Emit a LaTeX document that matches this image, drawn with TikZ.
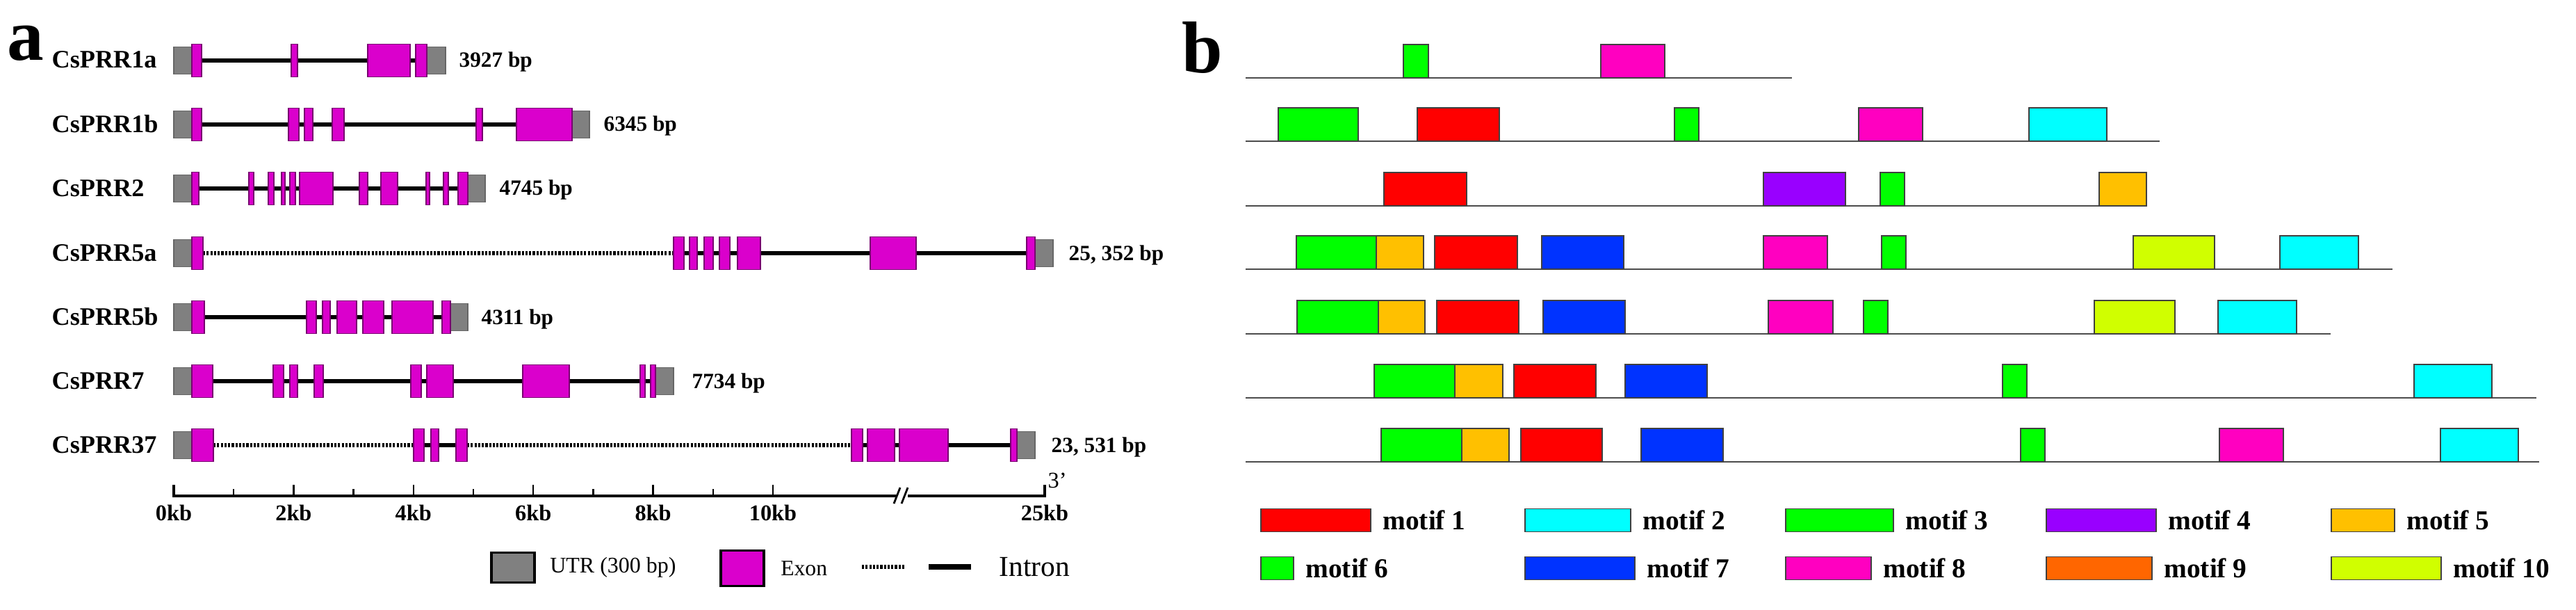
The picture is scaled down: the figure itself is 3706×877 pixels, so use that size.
\documentclass[tikz,border=0pt]{standalone}
\usepackage{fontspec}
\setmainfont{Liberation Serif}
\usetikzlibrary{positioning}
\definecolor{exon}{RGB}{218,0,204}
\definecolor{utr}{RGB}{128,128,128}
\definecolor{mred}{RGB}{255,0,0}
\definecolor{mcyan}{RGB}{0,255,255}
\definecolor{mgreen}{RGB}{0,255,0}
\definecolor{mpurple}{RGB}{153,0,255}
\definecolor{morange}{RGB}{255,192,0}
\definecolor{mblue}{RGB}{0,51,255}
\definecolor{mpink}{RGB}{255,0,192}
\definecolor{mbrown}{RGB}{255,102,0}
\definecolor{mlime}{RGB}{208,255,0}

\begin{document}
\begin{tikzpicture}[x=0.1mm,y=-0.1mm]

	\tikzset{utr/.style={draw=black!60,fill=utr,line width=0.3pt}}
	\tikzset{exon/.style={draw=exon!55!black,fill=exon,line width=0.3pt}}
	\tikzset{intron/.style={line width=1.6pt}}
	\tikzset{dotintron/.style={line width=1.7pt,dash pattern=on 0.9pt off 0.6pt}}
	\tikzset{gname/.style={anchor=base west,inner sep=0,font=\fontsize{10.3}{12}\selectfont\bfseries}}
	\tikzset{bplab/.style={anchor=base west,inner sep=0,font=\fontsize{8.9}{10}\selectfont\bfseries}}
	\tikzset{kblab/.style={anchor=base,inner sep=0,font=\fontsize{9.2}{10}\selectfont\bfseries}}
	\tikzset{panel/.style={anchor=base west,inner sep=0,font=\fontsize{30}{30}\selectfont\bfseries}}
	\tikzset{motif/.style={draw=black!75,line width=0.35pt}}
	\tikzset{mline/.style={draw=black!70,line width=0.6pt}}
	\tikzset{lgbox/.style={draw=black!75,line width=0.4pt,minimum height=3.3mm,inner sep=0}}
	\tikzset{lgtext/.style={inner sep=0,font=\fontsize{11.2}{12}\selectfont\bfseries}}

	\useasboundingbox (0,0) rectangle (3706,877);

	% (a) gene structures
	\node[panel] (pa) at (10,87) {a};

	\foreach \y/\gname/\us/\ue/\glen/\lx/\introns/\exons in {
		87/CsPRR1a/614/641/3927 bp/660/{290/598/intron}/{276/290,419/428,529/590,598/614},
		179/CsPRR1b/823/848/6345 bp/868/{290/743/intron}/{276/290,415/430,438/450,478/495,685/694,743/823},
		271/CsPRR2/673/698/4745 bp/718/{286/659/intron}/{276/286,358/365,386/394,405/410,417/425,431/479,517/529,548/572,613/618,638/645,659/673},
		364/CsPRR5a/1489/1515/{25, 352 bp}/1537/{292/969/dotintron,969/1477/intron}/{276/292,969/984,992/1003,1013/1026,1035/1050,1061/1094,1252/1318,1477/1489},
		456/CsPRR5b/648/673/4311 bp/692/{294/636/intron}/{276/294,441/455,464/475,485/513,522/552,564/623,636/648},
		548/CsPRR7/943/969/7734 bp/995/{306/936/intron}/{276/306,393/408,417/428,452/465,591/606,614/652,752/819,921/928,936/943},
		640/CsPRR37/1463/1489/{23, 531 bp}/1512/{307/595/dotintron,595/672/intron,672/1225/dotintron,1225/1454/intron}/{276/307,595/610,620/631,656/672,1225/1241,1248/1287,1294/1364,1454/1463}}{
		\foreach \xa/\xb/\s in \introns \draw[\s] (\xa,\y) -- (\xb,\y);
		\draw[utr] (250,\y-19.5) rectangle (276,\y+19.5);
		\draw[utr] (\us,\y-19.5) rectangle (\ue,\y+19.5);
		\foreach \xa/\xb in \exons \draw[exon] (\xa,\y-23.5) rectangle (\xb,\y+23.5);
		\node[gname] (n\gname) at (74,\y+11) {\gname};
		\node[bplab] (l\gname) at (\lx,\y+10) {\glen};
	}

	% scale bar
	\draw[line width=1.15pt] (250,697) -- (250,713) -- (1290,713) (1306,713) -- (1503,713) -- (1503,697);
	\foreach \i in {1,...,5} \draw[line width=0.7pt] (250+172.4*\i,697) -- (250+172.4*\i,713);
	\foreach \i in {0,...,4} \draw[line width=0.7pt] (336.2+172.4*\i,703) -- (336.2+172.4*\i,713);
	\foreach \i/\kv in {0/0,1/2,2/4,3/6,4/8,5/10}
		\node[kblab] (kb\kv) at (250+172.4*\i,748) {\kv kb};
	\node[kblab] (kb25) at (1503,748) {25kb};
	\draw[line width=0.8pt] (1286,724) -- (1295,701) (1297,724) -- (1306,701);
	\node[anchor=south west,inner sep=0,font=\fontsize{9.2}{10}\selectfont] (end3) at (1507,703) {3'};

	% legend (a)
	\node[draw=black,line width=0.9pt,fill=utr,minimum width=6.2mm,minimum height=4.3mm,inner sep=0] (lgutr) at (738,816) {};
	\node[right=2mm of lgutr,inner sep=0,font=\fontsize{9.1}{10}\selectfont] (tutr) {UTR (300 bp)};
	\node[draw=black,line width=0.9pt,fill=exon,minimum width=6.2mm,minimum height=5.1mm,inner sep=0] (lgexon) at (1068,817) {};
	\node[right=2.2mm of lgexon,inner sep=0,font=\fontsize{9}{10}\selectfont] (texon) {Exon};
	\draw[dotintron] (1240,815) -- (1302,815);
	\draw[line width=2pt] (1336,815) -- (1397,815);
	\node[anchor=west,inner sep=0,font=\fontsize{11.8}{13}\selectfont] (tintron) at (1437,815) {Intron};

	% (b) conserved motifs
	\node[panel] (pb) at (1700,105) {b};

	\foreach \y/\e/\boxes in {
		112/2578/{mgreen/2019/2055,mpink/2303/2395},
		203/3107/{mgreen/1839/1954,mred/2039/2157,mgreen/2409/2444,mpink/2674/2766,mcyan/2919/3031},
		296/3089/{mred/1991/2110,mpurple/2537/2655,mgreen/2705/2740,morange/3020/3088},
		387/3442/{mgreen/1865/1980,morange/1980/2048,mred/2064/2183,mblue/2218/2336,mpink/2537/2629,mgreen/2707/2742,mlime/3069/3186,mcyan/3280/3393},
		480/3353/{mgreen/1866/1983,morange/1983/2050,mred/2067/2185,mblue/2220/2338,mpink/2544/2637,mgreen/2681/2716,mlime/3013/3129,mcyan/3191/3304},
		572/3649/{mgreen/1977/2093,morange/2093/2162,mred/2178/2296,mblue/2338/2456,mgreen/2881/2916,mcyan/3473/3585},
		664/3653/{mgreen/1987/2103,morange/2103/2171,mred/2188/2305,mblue/2361/2479,mgreen/2907/2942,mpink/3193/3285,mcyan/3511/3623}}{
		\draw[mline] (1792,\y) -- (\e,\y);
		\foreach \col/\xa/\xb in \boxes \draw[motif,fill=\col] (\xa,\y-48) rectangle (\xb,\y);
	}

	% legend (b)
	\foreach \n/\col/\x/\w/\yy in {1/mred/1814/15.8/748,2/mcyan/2194/15.2/748,3/mgreen/2569/15.5/748,
		4/mpurple/2944/15.8/748,5/morange/3354/9.1/748,6/mgreen/1814/4.7/817,7/mblue/2194/15.8/817,
		8/mpink/2569/12.3/817,9/mbrown/2944/15.2/817,10/mlime/3354/15.8/817}{
		\node[lgbox,fill=\col,minimum width=\w mm] (lg\n) at (\x+\w*5,\yy) {};
		\node[lgtext,right=1.6mm of lg\n] (lt\n) {motif \n};
	}
\end{tikzpicture}
\end{document}
